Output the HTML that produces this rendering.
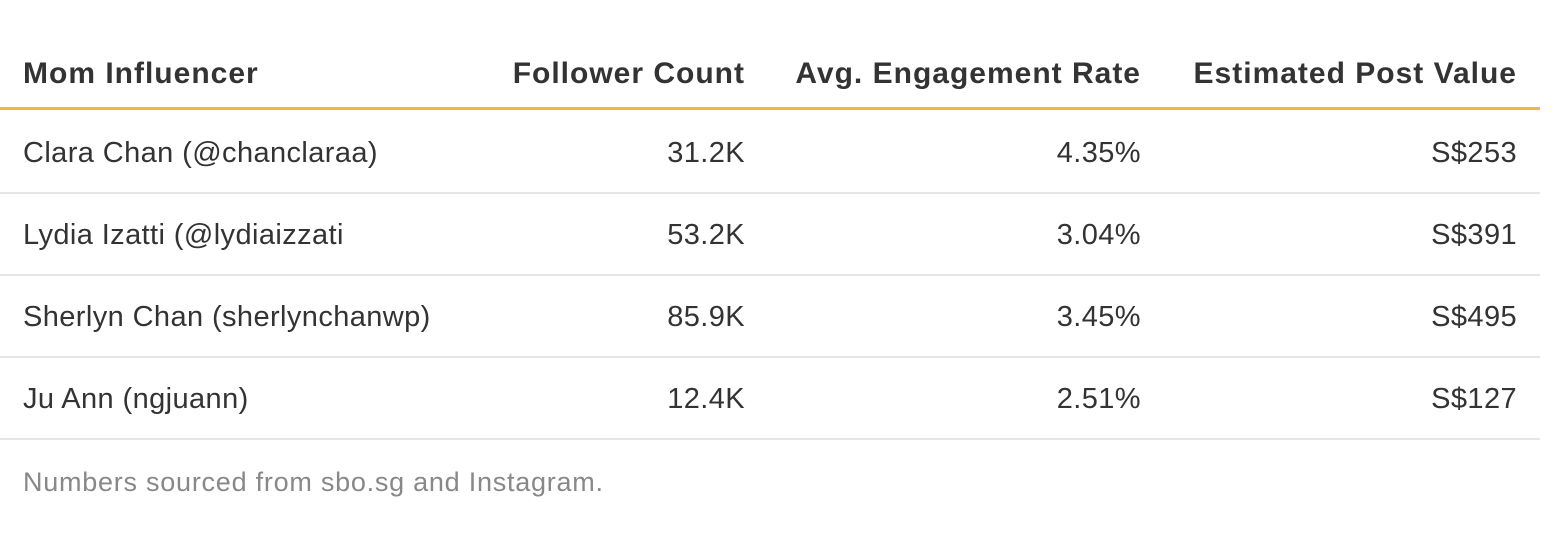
<!DOCTYPE html>
<html><head><style>
body{margin:0;background:#fff;width:1566px;height:542px;overflow:hidden;font-family:"Liberation Sans",sans-serif;color:#333;}
.t{position:absolute;left:0;width:1540px;}
.h{position:absolute;top:0;height:110px;border-bottom:3px solid #f1b73e;box-sizing:border-box;width:1540px;}
.r{position:absolute;height:82px;border-bottom:2px solid #e6e6e6;box-sizing:border-box;width:1540px;}
.c{position:absolute;white-space:nowrap;font-size:29px;letter-spacing:0.4px;}
.h .c{font-weight:bold;top:57px;font-size:30px;letter-spacing:1px;}
.r .c{top:25px;}
.a{left:23px}
.b{right:795px}.d{right:399px}.e{right:23px}
.n{position:absolute;left:23px;top:467px;font-size:27px;letter-spacing:0.75px;color:#888;}
</style></head><body>
<div class="t">
<div class="h"><span class="c a">Mom Influencer</span><span class="c b">Follower Count</span><span class="c d">Avg. Engagement Rate</span><span class="c e">Estimated Post Value</span></div>
<div class="r" style="top:112px"><span class="c a">Clara Chan (@chanclaraa)</span><span class="c b">31.2K</span><span class="c d">4.35%</span><span class="c e">S$253</span></div>
<div class="r" style="top:194px"><span class="c a">Lydia Izatti (@lydiaizzati</span><span class="c b">53.2K</span><span class="c d">3.04%</span><span class="c e">S$391</span></div>
<div class="r" style="top:276px"><span class="c a">Sherlyn Chan (sherlynchanwp)</span><span class="c b">85.9K</span><span class="c d">3.45%</span><span class="c e">S$495</span></div>
<div class="r" style="top:358px"><span class="c a">Ju Ann (ngjuann)</span><span class="c b">12.4K</span><span class="c d">2.51%</span><span class="c e">S$127</span></div>
</div>
<div class="n">Numbers sourced from sbo.sg and Instagram.</div>
</body></html>
